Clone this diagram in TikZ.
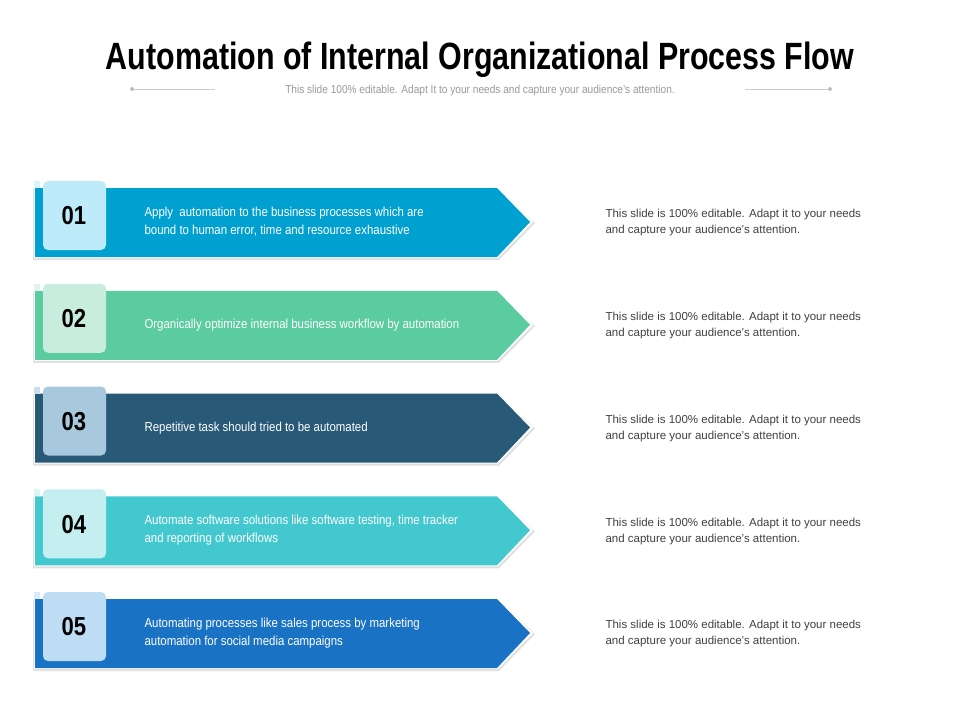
\documentclass[tikz,border=0pt]{standalone}
\usepackage{fontspec}
\setmainfont{Liberation Sans}
\usepackage{graphicx}
\begin{document}
\begin{tikzpicture}[x=1pt,y=-1pt,
  bodytxt/.style={anchor=west,align=left,text=white,font=\fontsize{13}{18}\selectfont},
  sidetxt/.style={anchor=west,align=left,text=black!75,font=\fontsize{11.5}{16}\selectfont},
  numtxt/.style={font=\bfseries\fontsize{26}{26}\selectfont,text=black}]
\useasboundingbox[fill=white] (0,0) rectangle (960,720);
\node (title) at (480,60) {\scalebox{0.8}[1]{\bfseries\fontsize{38}{40}\selectfont Automation of Internal Organizational Process Flow}};
\node (sub) at (480,91) {\scalebox{0.88}[1]{\fontsize{11.5}{13}\selectfont\color{black!40}This slide 100\% editable. Adapt It to your needs and capture your audience's attention.}};
\draw[black!20] (132,89) -- (215,89); \fill[black!25] (132,89) circle (2);
\draw[black!20] (745,89) -- (830,89); \fill[black!25] (830,89) circle (2);
\foreach \i/\c/\b/\n/\t in {
 0/00A0D0/BDEBFA/01/{Apply\ \ automation to the business processes which are\\bound to human error, time and resource exhaustive},
 1/5BCBA0/C8EDDF/02/{Organically optimize internal business workflow by automation},
 2/285A78/A7C8DD/03/{Repetitive task should tried to be automated},
 3/44C8D0/C4EEF0/04/{Automate software solutions like software testing, time tracker\\and reporting of workflows},
 4/1A72C4/BEDDF5/05/{Automating processes like sales process by marketing\\automation for social media campaigns}}{
 \pgfmathsetmacro{\yc}{222+102.75*\i}
 \definecolor{mc}{HTML}{\c}\definecolor{bc}{HTML}{\b}
 \fill[black!12] (33,\yc-33) -- (499,\yc-33) -- (535,\yc+1) -- (499,\yc+38) -- (33,\yc+38) -- cycle;
 \fill[white] (34,\yc-35) -- (498,\yc-35) -- (533,\yc) -- (498,\yc+36) -- (34,\yc+36) -- cycle;
 \fill[mc] (35,\yc-34) -- (497,\yc-34) -- (530,\yc) -- (497,\yc+35) -- (35,\yc+35) -- cycle;
 \fill[bc!60!white] (34,\yc-41) -- (40,\yc-41) -- (40,\yc-34) -- (34,\yc-34) -- cycle;
 \fill[bc, rounded corners=5] (43,\yc-41) rectangle (106,\yc+28);
 \node[numtxt] (n\i) at (74,\yc-6) {\scalebox{0.85}[1]{\n}};
 \node[bodytxt] (b\i) at (141,\yc) {\scalebox{0.88}[1]{\begin{tabular}{@{}l@{}}\t\end{tabular}}};
 \node[sidetxt] (s\i) at (602,\yc+1) {This slide is 100\% editable. Adapt it to your needs\\and capture your audience's attention.};
}
\end{tikzpicture}
\end{document}
